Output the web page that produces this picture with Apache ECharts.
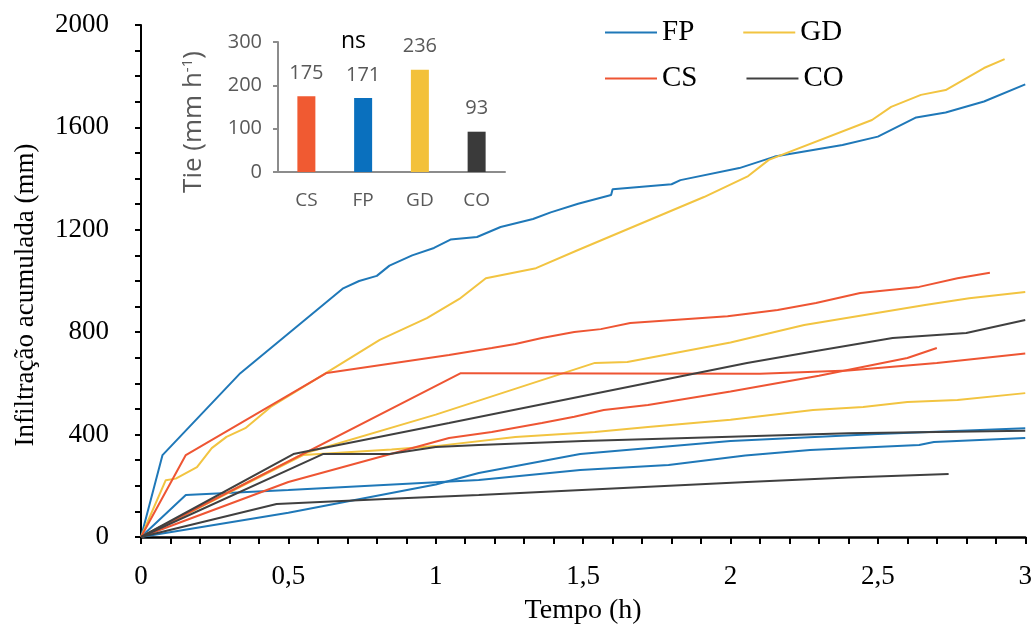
<!DOCTYPE html>
<html>
<head>
<meta charset="utf-8">
<script src="https://cdn.jsdelivr.net/npm/echarts@6/dist/echarts.min.js"></script>
<style>
  html, body { margin: 0; padding: 0; background: #fff; }
  #chart { width: 1035px; height: 633px; }
</style>
</head>
<body>
<div id="chart"></div>
<script>
// curvas de infiltração acumulada [tempo (h), mm]
const fp1 = [[0,0],[0.073,320],[0.337,640],[0.684,970],[0.74,1000],[0.80,1020],[0.843,1060],[0.92,1100],[0.994,1129],[1.05,1162],[1.14,1172],[1.22,1211],[1.33,1242],[1.39,1268],[1.483,1302],[1.595,1336],[1.6,1358],[1.8,1378],[1.83,1394],[2.03,1441],[2.15,1486],[2.38,1531],[2.5,1564],[2.63,1639],[2.73,1658],[2.86,1701],[3,1768]];
const fp2 = [[0,0],[0.152,164],[0.5,184],[1.146,223],[1.49,262],[1.79,281],[2.05,318],[2.27,340],[2.64,359],[2.69,371],[3,387]];
const fp3 = [[0,0],[0.5,95],[1.0,205],[1.146,250],[1.49,324],[2.0,375],[2.5,402],[3,425]];

const gd1 = [[0,0],[0.084,222],[0.118,228],[0.19,273],[0.24,347],[0.29,391],[0.354,425],[0.44,508],[0.62,635],[0.81,770],[0.97,855],[1.08,930],[1.17,1011],[1.34,1050],[1.483,1121],[1.91,1328],[2.06,1410],[2.13,1473],[2.48,1629],[2.545,1680],[2.646,1727],[2.73,1746],[2.86,1832],[2.93,1867]];
const gd2 = [[0,0],[0.55,325],[1.0,478],[1.54,680],[1.65,684],[2.0,760],[2.25,828],[2.66,906],[2.81,933],[3,957]];
const gd3 = [[0,0],[0.55,320],[0.85,342],[1.0,355],[1.27,391],[1.54,410],[1.72,430],[2.0,458],[2.28,496],[2.45,508],[2.6,527],[2.77,535],[3,562]];

const cs1 = [[0,0],[0.152,320],[0.63,641],[1.045,711],[1.19,738],[1.27,754],[1.36,777],[1.47,801],[1.56,812],[1.66,836],[1.99,862],[2.16,887],[2.29,914],[2.44,953],[2.64,977],[2.77,1011],[2.88,1032]];
const cs2 = [[0,0],[1.085,640],[2.1,638],[2.4,650],[2.7,680],[3,717]];
const cs3 = [[0,0],[0.5,215],[1.045,387],[1.19,410],[1.36,445],[1.47,470],[1.57,496],[1.72,516],[2.0,568],[2.3,630],[2.6,699],[2.7,738]];

const co1 = [[0,0],[0.517,324],[1.045,445],[2.056,680],[2.27,723],[2.55,777],[2.8,797],[3,848]];
const co2 = [[0,0],[0.617,324],[0.843,324],[1.0,352],[1.146,359],[1.5,375],[2.0,392],[2.4,405],[3,415]];
const co3 = [[0,0],[0.46,129],[0.866,150],[1.146,164],[2.056,215],[2.4,232],[2.74,246]];

// gráfico inserido (Tie)
const tieCats = ['CS', 'FP', 'GD', 'CO'];
const tieVals = [175, 171, 236, 93];

const cores = { FP: '#1f78b8', GD: '#f2c441', CS: '#ee5533', CO: '#404040' };
const corBarras = ['#f05a32', '#0a70be', '#f3c13a', '#3a3a3a'];

const serif = 'Liberation Serif';
const sans = 'Open Sans';

function linha(nome, dados) {
  return {
    name: nome,
    type: 'line',
    xAxisIndex: 0,
    yAxisIndex: 0,
    data: dados,
    showSymbol: false,
    symbol: 'none',
    color: cores[nome],
    lineStyle: { width: 2, color: cores[nome] },
    animation: false
  };
}

const chart = echarts.init(document.getElementById('chart'));

const option = {
  backgroundColor: '#fff',
  animation: false,
  title: {
    text: 'ns',
    left: 336,
    top: 25,
    textStyle: { fontFamily: sans, fontSize: 23, fontWeight: 'normal', color: '#000' }
  },
  legend: [
    {
      data: ['FP', 'GD'],
      left: 600, top: 13,
      icon: 'rect', itemWidth: 52, itemHeight: 2, itemGap: 49,
      textStyle: { fontFamily: serif, fontSize: 29, color: '#000', width: 50 }
    },
    {
      data: ['CS', 'CO'],
      left: 600, top: 59,
      icon: 'rect', itemWidth: 52, itemHeight: 2, itemGap: 49,
      textStyle: { fontFamily: serif, fontSize: 29, color: '#000', width: 50 }
    }
  ],
  grid: [
    { left: 141, right: 5, top: 25, bottom: 96 },
    { left: 278, width: 227, top: 42, height: 130 }
  ],
  xAxis: [
    {
      type: 'value', gridIndex: 0, min: 0, max: 3, interval: 0.5,
      name: 'Tempo (h)', nameLocation: 'middle', nameGap: 60,
      nameTextStyle: { fontFamily: serif, fontSize: 28, color: '#000' },
      axisLine: { lineStyle: { color: '#000', width: 2.5 } },
      axisTick: { show: true, inside: false, length: 7, lineStyle: { color: '#000', width: 2 } },
      minorTick: { show: true, splitNumber: 5, length: 7, lineStyle: { color: '#000', width: 2 } },
      splitLine: { show: false },
      axisLabel: {
        fontFamily: serif, fontSize: 27, color: '#000', margin: 26,
        formatter: v => String(v).replace('.', ',')
      }
    },
    {
      type: 'category', gridIndex: 1, data: tieCats,
      axisLine: { lineStyle: { color: '#8c8c8c', width: 2 } },
      axisTick: { show: false },
      axisLabel: { fontFamily: sans, fontSize: 19, color: '#595959', margin: 19 }
    }
  ],
  yAxis: [
    {
      type: 'value', gridIndex: 0, min: 0, max: 2000, interval: 400,
      name: 'Infiltração acumulada (mm)', nameLocation: 'middle', nameGap: 102,
      nameTextStyle: { fontFamily: serif, fontSize: 27, color: '#000', padding: [0, 28, 0, 0] },
      axisLine: { show: true, lineStyle: { color: '#000', width: 2 } },
      axisTick: { show: true, inside: false, length: 6, lineStyle: { color: '#000', width: 2 } },
      minorTick: { show: true, splitNumber: 4, length: 6, lineStyle: { color: '#000', width: 2 } },
      splitLine: { show: false },
      axisLabel: { fontFamily: serif, fontSize: 27, color: '#000', margin: 32, formatter: v => String(v) }
    },
    {
      type: 'value', gridIndex: 1, min: 0, max: 300, interval: 100,
      name: '{a|Tie (mm h}{b|-1}{a|)}', nameLocation: 'middle', nameGap: 70,
      nameTextStyle: {
        padding: [0, 30, 0, 0],
        rich: {
          a: { fontFamily: sans, fontSize: 26, color: '#595959' },
          b: { fontFamily: sans, fontSize: 15, color: '#595959', verticalAlign: 'top', padding: [0, 0, 13, 0] }
        }
      },
      axisLine: { show: true, lineStyle: { color: '#8c8c8c', width: 2 } },
      axisTick: { show: true, length: 5, lineStyle: { color: '#8c8c8c', width: 2 } },
      splitLine: { show: false },
      axisLabel: { fontFamily: sans, fontSize: 20, color: '#595959', margin: 16 }
    }
  ],
  series: [
    linha('FP', fp1), linha('FP', fp2), linha('FP', fp3),
    linha('GD', gd1), linha('GD', gd2), linha('GD', gd3),
    linha('CS', cs1), linha('CS', cs2), linha('CS', cs3),
    linha('CO', co1), linha('CO', co2), linha('CO', co3),
    {
      name: 'Tie',
      type: 'bar',
      xAxisIndex: 1,
      yAxisIndex: 1,
      barWidth: 18,
      data: tieVals.map((v, i) => ({ value: v, itemStyle: { color: corBarras[i] } })),
      label: { show: true, position: 'top', distance: 13, fontFamily: sans, fontSize: 20, color: '#595959' }
    }
  ]
};

chart.setOption(option);
</script>
</body>
</html>
